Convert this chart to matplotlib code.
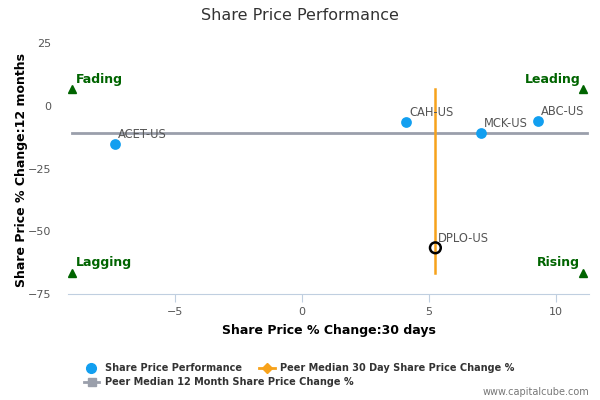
import numpy as np
import matplotlib.pyplot as plt
from matplotlib.lines import Line2D

# Data
tickers = ['ACET-US', 'CAH-US', 'MCK-US', 'ABC-US']
chg_30d = [-7.35, 4.1, 7.05, 9.3]
chg_12m = [-15.1, -6.4, -10.8, -6.0]

focus_name = 'DPLO-US'
focus_30d = 5.25
focus_12m = -56.6

median_30d = 5.25
median_12m = -10.8

quad_x = [-9.05, 11.05]
quad_y = [6.5, -66.5]

blue = '#129ff0'
orange = '#f7a21b'
grey = '#9a9fab'
green = '#006400'
text_grey = '#555555'

fig = plt.figure(figsize=(6, 4), dpi=100)
ax = fig.add_axes([0.1138, 0.265, 0.868, 0.6463])

# median lines
ax.plot([quad_x[0], quad_x[1] + 0.15], [median_12m, median_12m], color=grey, lw=2, zorder=1)
ax.plot([median_30d, median_30d], [quad_y[0], quad_y[1]], color=orange, lw=1.8, zorder=2)

# peers
ax.scatter(chg_30d, chg_12m, s=60, color=blue, zorder=3, linewidths=0)
for name, x, y in zip(tickers, chg_30d, chg_12m):
    ax.annotate(name, (x, y), xytext=(2, 4), textcoords='offset points',
                fontsize=8.3, color=text_grey)

# focus company
ax.scatter([focus_30d], [focus_12m], s=60, facecolors='none', edgecolors='black',
           linewidths=1.8, zorder=4)
ax.annotate(focus_name, (focus_30d, focus_12m), xytext=(2, 4), textcoords='offset points',
            fontsize=8.3, color=text_grey)

# quadrant markers
for qx in quad_x:
    for qy in quad_y:
        ax.plot(qx, qy, marker='^', color=green, ms=6, zorder=5)
ax.text(quad_x[0] + 0.15, quad_y[0] + 1.3, 'Fading', color=green, fontsize=9,
        fontweight='bold', ha='left', va='bottom')
ax.text(quad_x[0] + 0.15, quad_y[1] + 1.3, 'Lagging', color=green, fontsize=9,
        fontweight='bold', ha='left', va='bottom')
ax.text(quad_x[1] - 0.1, quad_y[0] + 1.3, 'Leading', color=green, fontsize=9,
        fontweight='bold', ha='right', va='bottom')
ax.text(quad_x[1] - 0.1, quad_y[1] + 1.3, 'Rising', color=green, fontsize=9,
        fontweight='bold', ha='right', va='bottom')

ax.set_xlim(-9.2, 11.3)
ax.set_ylim(-75, 28)
ax.set_xticks([-5, 0, 5, 10])
ax.set_yticks([-75, -50, -25, 0, 25])
for s in ['top', 'right', 'left']:
    ax.spines[s].set_visible(False)
ax.spines['bottom'].set_color('#c0cfe0')
ax.tick_params(axis='x', colors='#c0cfe0', labelcolor='#555555', labelsize=8, length=6, direction='out')
ax.tick_params(axis='y', length=0, labelcolor='#555555', labelsize=8, pad=12)

ax.set_xlabel('Share Price % Change:30 days', fontsize=9, fontweight='bold', color='black', labelpad=5)
fig.text(22 / 600, 1 - 170 / 400, 'Share Price % Change:12 months', rotation=90, fontsize=9,
         fontweight='bold', color='black', ha='center', va='center')

fig.text(0.5, 0.96, 'Share Price Performance', ha='center', va='center', fontsize=11.5, color='#333333')

# legend drawn by hand
row1 = 1 - 368 / 400
row2 = 1 - 382 / 400
fig.add_artist(Line2D([91 / 600], [row1], marker='o', color=blue, ms=7, ls='none',
                      transform=fig.transFigure))
fig.text(105 / 600, row1, 'Share Price Performance', fontsize=7, fontweight='bold',
         color='#333333', va='center')
fig.add_artist(Line2D([259 / 600, 275 / 600], [row1, row1], color=orange, lw=2,
                      transform=fig.transFigure))
fig.add_artist(Line2D([267 / 600], [row1], marker='D', color=orange, ms=5, ls='none',
                      transform=fig.transFigure))
fig.text(280 / 600, row1, 'Peer Median 30 Day Share Price Change %', fontsize=7,
         fontweight='bold', color='#333333', va='center')
fig.add_artist(Line2D([84 / 600, 99 / 600], [row2, row2], color=grey, lw=2,
                      transform=fig.transFigure))
fig.add_artist(Line2D([92 / 600], [row2], marker='s', color=grey, ms=6, ls='none',
                      transform=fig.transFigure))
fig.text(105 / 600, row2, 'Peer Median 12 Month Share Price Change %', fontsize=7,
         fontweight='bold', color='#333333', va='center')

fig.text(0.983, 1 - 392 / 400, 'www.capitalcube.com', fontsize=7, color='#777777',
         ha='right', va='center')

fig.savefig('out.png', dpi=100)
